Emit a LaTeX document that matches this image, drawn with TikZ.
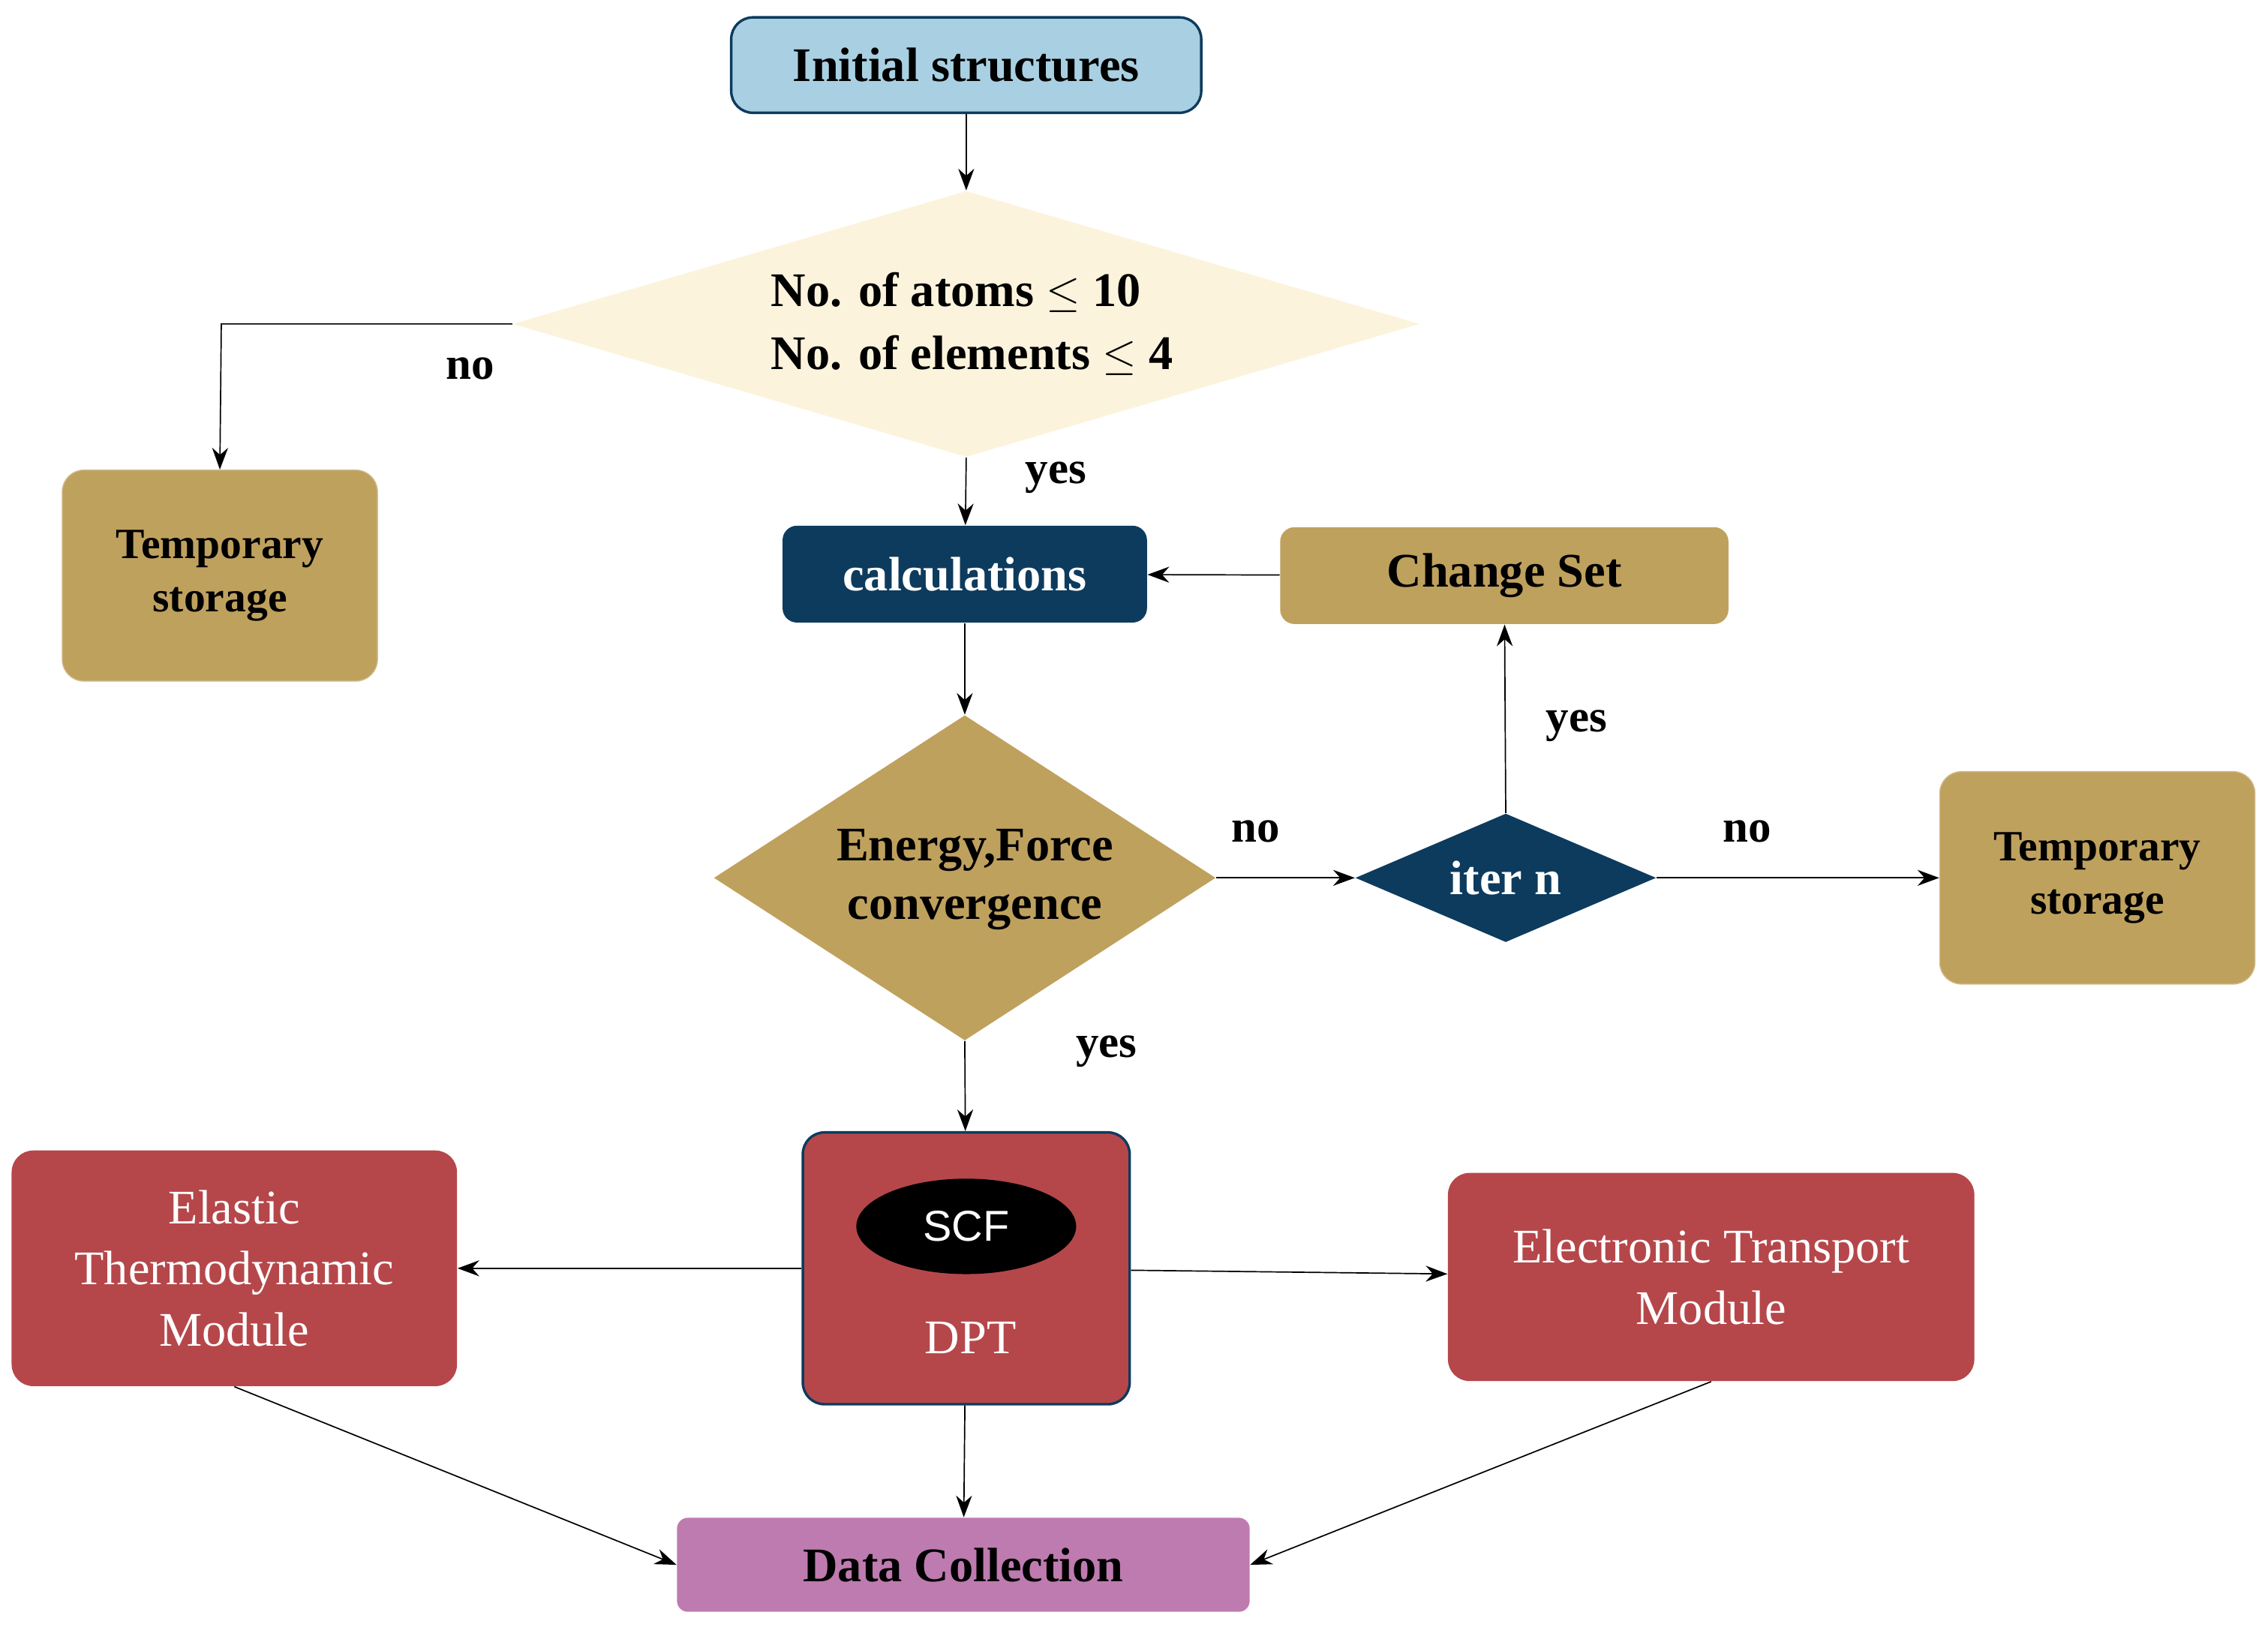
\documentclass[tikz,border=0pt]{standalone}
\usepackage{fontspec}
\setmainfont{Liberation Serif}
\newfontfamily\sansf{Liberation Sans}
\usetikzlibrary{shapes.geometric,arrows.meta}
\definecolor{navy}{HTML}{0D3B5E}
\definecolor{gold}{HTML}{BFA15E}
\definecolor{redb}{HTML}{B5474A}
\definecolor{pinkb}{HTML}{BE7BB0}
\definecolor{lblue}{HTML}{A8D0E2}
\definecolor{cream}{HTML}{FCF3DC}
\begin{document}
\begin{tikzpicture}[x=0.02cm,y=-0.02cm,
 box/.style={rounded corners=0.3cm,inner sep=0,align=center},
 dia/.style={diamond,inner sep=0,draw=none},
 arr/.style={-{Stealth[length=0.3cm,width=0.22cm]},line width=0.5pt},
 lbl/.style={font=\fontsize{18}{20}\selectfont\bfseries},
 bt/.style={font=\fontsize{19}{23}\selectfont\bfseries},
 st/.style={font=\fontsize{17}{21}\selectfont\bfseries}]
\useasboundingbox (0,0) rectangle (1568,1127);
\node[box,fill=lblue,draw=navy,line width=1pt,minimum width=6.5cm,minimum height=1.32cm,bt] (init) at (668,45) {Initial structures};
\node[dia,fill=cream,minimum width=12.54cm,minimum height=3.68cm] (d1) at (668,224) {};
\node[bt,align=left] (d1t) at (672,224) {No. of atoms $\leq$ 10\\[2pt]No. of elements $\leq$ 4};
\node[box,fill=gold,draw=gold!70!white,minimum width=4.36cm,minimum height=2.92cm,st] (ts1) at (152,398) {Temporary\\storage};
\node[box,rounded corners=0.2cm,fill=navy,text=white,minimum width=5.04cm,minimum height=1.34cm,bt] (calc) at (667,397) {calculations};
\node[box,rounded corners=0.2cm,fill=gold,minimum width=6.2cm,minimum height=1.34cm,bt] (cs) at (1040,398) {Change Set};
\node[dia,fill=gold,minimum width=6.94cm,minimum height=4.5cm] (d2) at (667,607) {};
\node[bt,align=center] (d2t) at (674,608) {Energy,Force\\convergence};
\node[dia,fill=navy,minimum width=4.16cm,minimum height=1.78cm] (it) at (1041,607) {};
\node[bt,text=white] (itt) at (1041,607) {iter n};
\node[box,fill=gold,draw=gold!70!white,minimum width=4.36cm,minimum height=2.94cm,st] (ts2) at (1450,607) {Temporary\\storage};
\node[box,fill=redb,draw=navy,line width=1pt,minimum width=4.52cm,minimum height=3.76cm] (dpt) at (668,877) {};
\node[ellipse,fill=black,minimum width=3.04cm,minimum height=1.32cm,inner sep=0,text=white,font=\sansf\fontsize{17}{20}\selectfont] (scf) at (668,848) {SCF};
\node[text=white,font=\fontsize{19}{22}\selectfont] (dptt) at (671,925) {DPT};
\node[box,fill=redb,minimum width=6.16cm,minimum height=3.26cm,text=white,font=\fontsize{19}{24}\selectfont] (el) at (162,877) {Elastic\\Thermodynamic\\Module};
\node[box,fill=redb,minimum width=7.28cm,minimum height=2.88cm,text=white,font=\fontsize{19}{24}\selectfont] (etm) at (1183,883) {Electronic Transport\\Module};
\node[box,rounded corners=0.15cm,fill=pinkb,minimum width=7.92cm,minimum height=1.3cm,bt] (dc) at (666,1082) {Data Collection};
\coordinate (c1) at (153,224);
\draw[arr] (init) -- (d1.north);
\draw[arr] (d1.west) -- (c1) -- (ts1.north);
\draw[arr] (d1.south) -- (calc);
\draw[arr] (calc) -- (d2.north);
\draw[arr] (cs) -- (calc);
\draw[arr] (d2.east) -- (it.west);
\draw[arr] (it.north) -- (cs);
\draw[arr] (it.east) -- (ts2);
\draw[arr] (d2.south) -- (dpt);
\draw[arr] (dpt) -- (el);
\draw[arr] (dpt) -- (etm);
\draw[arr] (dpt) -- (dc);
\draw[arr] (el.south) -- (dc.west);
\draw[arr] (etm.south) -- (dc.east);
\node[lbl] (n1) at (325,255) {no};
\node[lbl] (y1) at (730,330) {yes};
\node[lbl] (n2) at (868,575) {no};
\node[lbl] (n3) at (1208,575) {no};
\node[lbl] (y2) at (1090,502) {yes};
\node[lbl] (y3) at (765,727) {yes};
\end{tikzpicture}
\end{document}
